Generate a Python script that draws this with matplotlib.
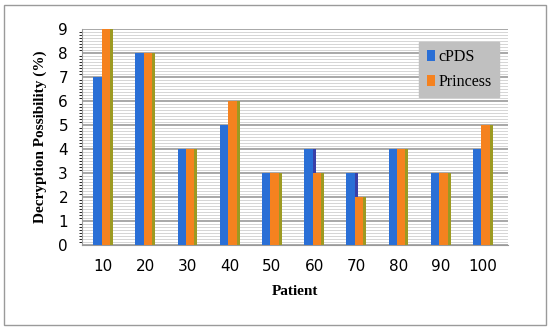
import numpy as np
import matplotlib.pyplot as plt
from matplotlib.patches import Rectangle

# data
patients = ['10', '20', '30', '40', '50', '60', '70', '80', '90', '100']
cpds = [7, 8, 4, 5, 3, 4, 3, 4, 3, 4]
princess = [9, 8, 4, 6, 3, 3, 2, 4, 3, 5]

blueFront = '#2a6fd6'
blueSide = '#3a3fa8'
orangeFront = '#f5821f'
orangeSide = '#9c9a22'

fig = plt.figure(figsize=(5.5, 3.32), dpi=100, facecolor='white')
ax = fig.add_axes([0.149, 0.262, 0.775, 0.651])

x = np.arange(len(patients))
w = 0.2
depth = 0.07

# minor "3d wall" lines and major gridlines
ax.set_yticks(np.arange(0, 9.01, 0.125), minor=True)
ax.grid(which='minor', axis='y', color='#cfcfcf', linewidth=0.6)
ax.grid(which='major', axis='y', color='#9a9a9a', linewidth=1.2)
ax.set_axisbelow(True)

# front faces
ax.bar(x - w / 2 - depth / 2, cpds, width=w, color=blueFront, label='cPDS', zorder=3)
ax.bar(x + w / 2 - depth / 2, princess, width=w, color=orangeFront, label='Princess', zorder=3)
# side faces for a fake 3d look
ax.bar(x + w, princess, width=depth, color=orangeSide, zorder=3)
ax.bar(x, [c if c > p else 0 for c, p in zip(cpds, princess)],
       width=depth, color=blueSide, zorder=2)

ax.set_xlim(-0.5, 9.6)
ax.set_ylim(0, 9)
ax.set_yticks(range(10))
ax.set_xticks(x)
ax.set_xticklabels(patients)
ax.tick_params(axis='both', length=0, labelsize=11, colors='black')
ax.tick_params(axis='y', pad=10)
ax.tick_params(axis='x', pad=10)

for s in ['top', 'right']:
    ax.spines[s].set_visible(False)
ax.spines['left'].set_color('#9a9a9a')
ax.spines['bottom'].set_color('#9a9a9a')

ax.set_xlabel('Patient', family='Liberation Serif', fontweight='bold', fontsize=11, labelpad=8)
ax.set_ylabel('Decryption Possibility (%)', family='Liberation Serif', fontweight='bold', fontsize=11, labelpad=8)

leg = ax.legend(loc='upper right', bbox_to_anchor=(0.997, 0.975), prop={'family': 'Liberation Serif', 'size': 11.5},
                frameon=True, fancybox=False, handlelength=0.5, handleheight=0.7, handletextpad=0.25,
                borderpad=0.45, labelspacing=0.55)
leg.get_frame().set_facecolor('#c0c0c0')
leg.get_frame().set_edgecolor('#c0c0c0')
leg.get_frame().set_alpha(1)

# outer border of the chart
fig.patches.append(Rectangle((0.008, 0.02), 0.984, 0.965, transform=fig.transFigure,
                             fill=False, edgecolor='#9a9a9a', linewidth=1))

fig.savefig('out.png', dpi=100)
